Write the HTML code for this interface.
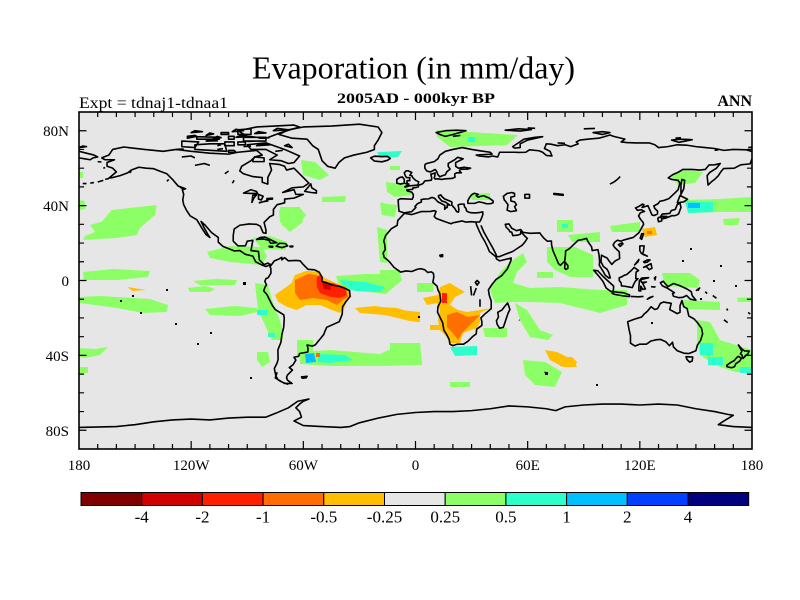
<!DOCTYPE html>
<html><head><meta charset="utf-8"><style>
html,body{margin:0;padding:0;background:#fff;}
svg{display:block;}
text{font-family:"Liberation Serif","Times New Roman",serif;fill:#000;}
</style></head><body>
<svg width="800" height="600" viewBox="0 0 800 600" xmlns="http://www.w3.org/2000/svg">
<defs><clipPath id="mc"><rect x="79" y="112" width="673" height="337"/></clipPath></defs>
<rect x="0" y="0" width="800" height="600" fill="#fff"/>
<rect x="79" y="112" width="673" height="337" fill="#e6e6e6"/>
<g clip-path="url(#mc)">
<g fill="#8cff66">
<polygon points="111.7,210 156.7,205 155,215 140,228 136.7,235 116.7,238 83.3,240 85,236 95,232 90,225 101.7,221.7"/>
<polygon points="79,200 85,201 85,209 79,210"/>
<polygon points="83,272 113,269 150,271 148,277 117,280 84,280"/>
<polygon points="79,297 100,296 150,299 168,305 167,312 143,313 117,308 80,303"/>
<polygon points="207,252 230,246 262,247 267,256 262,265 230,262 210,258"/>
<polygon points="193,281 215,279 237,280 235,285 200,285"/>
<polygon points="188,288 205,286 215,289 210,292 190,292"/>
<polygon points="205,309 235,306 257,308 257,312 240,316 210,315"/>
<polygon points="255,283 268,285 272,300 278,315 283,330 283,340 272,340 265,325 258,310"/>
<polygon points="257,352 268,352 270,362 262,367 257,360"/>
<polygon points="280,207 300,207 303,222 290,232 282,225"/>
<polygon points="253,238 270,236 287,242 285,250 262,249"/>
<polygon points="377,227 387,230 387,263 380,262"/>
<polygon points="380,203 397,205 395,217 382,215"/>
<polygon points="336,276 365,274 400,274 402,280 386,294 350,290 338,283"/>
<polygon points="300,352 330,350 380,354 400,345 420,343 422,365 380,366 330,366 300,364"/>
<polygon points="297,340 313,340 313,355 297,355"/>
<polygon points="301,160 315,162 329,175 320,180 303,175"/>
<polygon points="386,182 405,184 412,195 395,197 387,192"/>
<polygon points="322,197 346,196 345,202 322,202"/>
<polygon points="381,202 389,205 388,215 382,214"/>
<polygon points="279,210 300,208 306,215 298,225 290,232 280,222"/>
<polygon points="437,130 518,135 507,145 450,147 437,137"/>
<polygon points="670,175 685,170 703,172 695,183 678,185"/>
<polygon points="683,200 720,199 752,197 752,212 720,212 690,213"/>
<polygon points="723,219 740,218 738,225 724,225"/>
<polygon points="610,226 640,222 640,232 612,232"/>
<polygon points="557,220 573,220 573,232 557,232"/>
<polygon points="568,235 600,232 600,242 572,242"/>
<polygon points="547,247 575,247 593,255 593,277 570,277 555,270 547,262"/>
<polygon points="490,290 500,272 513,260 523,253 527,262 517,272 513,283 530,288 560,287 600,290 627,290 627,305 600,313 560,303 530,302 510,302 495,303"/>
<polygon points="515,303 527,310 540,330 553,335 548,340 530,337 520,320"/>
<polygon points="483,328 507,328 507,337 485,337"/>
<polygon points="523,360 545,362 562,372 555,387 535,385 525,375"/>
<polygon points="662,273 690,273 700,280 698,288 665,286"/>
<polygon points="683,300 720,302 720,310 685,309"/>
<polygon points="737,298 752,297 752,302 738,302"/>
<polygon points="697,320 710,322 720,340 752,350 752,373 735,372 715,365 700,355 697,340"/>
<polygon points="470,194 490,193 490,200 472,200"/>
<polygon points="79,348 95,349 108,347 100,355 85,358 79,357"/>
<polygon points="79,367 88,367 88,373 79,373"/>
<polygon points="417,283 433,283 433,292 417,292"/>
<polygon points="380,270 400,270 400,277 380,277"/>
<polygon points="537,272 553,272 553,278 537,278"/>
<polygon points="390,343 420,343 422,365 390,360"/>
<polygon points="450,382 470,382 470,387 450,387"/>
<polygon points="79,172 83,172 83,178 79,178"/>
<polygon points="390,166 400,166 400,170 390,170"/>
</g>
<g fill="#2cffcc">
<polygon points="340,280 365,282 385,287 380,292 355,291 343,286"/>
<polygon points="318,354 345,355 353,360 330,363 318,362"/>
<polygon points="450,347 477,346 477,355 455,356"/>
<polygon points="685,201 713,202 713,212 688,213"/>
<polygon points="700,343 713,343 713,355 700,355"/>
<polygon points="708,357 723,357 723,365 708,365"/>
<polygon points="740,367 752,367 752,373 740,373"/>
<polygon points="257,310 267,310 267,315 257,315"/>
<polygon points="268,333 275,333 275,337 268,337"/>
<polygon points="377,152 402,151 398,157 380,158"/>
<polygon points="468,137 475,137 475,142 468,142"/>
<polygon points="562,224 568,224 568,228 562,228"/>
</g>
<g fill="#00c0ff">
<polygon points="305,354 314,353 316,362 306,363"/>
<polygon points="688,203 700,203 700,208 688,208"/>
</g>
<g fill="#ffbf00">
<polygon points="275,295 291.7,283 295,275 306.7,270.7 316.7,271.7 325,278 333,281.7 346.7,286.7 351.7,296.7 346.7,300 345,306.7 340,313 331.7,310 320,305 306.7,305 296.7,310 286.7,306.7 278,301.7"/>
<polygon points="355,308 375,306 400,310 420,312 420,322 410,321 385,315 360,313"/>
<polygon points="423,298 438,295 440,287 450,283 458,288 465,292 455,297 450,305 458,310 467,312 480,310 490,308 480,313 480,322 477,328 463,333 460,343 450,343 447,337 440,330 438,320 440,310 437,303 427,305"/>
<polygon points="380,307 397,308 413,313 420,318 417,322 400,317 387,314 380,312"/>
<polygon points="430,325 442,325 442,330 430,330"/>
<polygon points="545,350 557,352 573,360 577,367 563,367 550,360"/>
<polygon points="642,229 655,227 657,235 645,237"/>
<polygon points="127,287 146,290 133,291"/>
<polygon points="560,357 572,357 577,362 575,367 560,366"/>
</g>
<g fill="#ff6e00">
<polygon points="295,280 308,274 316.7,275 320,281.7 335,286.7 346.7,290 348,296.7 343,300 336.7,305 326.7,300 313,298 300,300 295,293"/>
<polygon points="447,315 457,312 468,317 480,315 470,325 462,333 458,340 452,332 447,327"/>
<polygon points="316,353 320,353 320,357 316,357"/>
<polygon points="647,231 652,231 652,234 647,234"/>
</g>
<g fill="#ff2000">
<polygon points="316.7,276.7 320,275 323,281.7 333,283 345,288 346.7,295 340,298 330,296.7 320,293 316.7,286.7"/>
<polygon points="442,293 447,293 447,303 442,303"/>
</g>
<g fill="#d00000"><polygon points="322,282 330,284 331,290 324,289"/></g>

<g transform="translate(415.5,280.5) scale(1.8694,-1.8722)" fill="none" stroke="#000" stroke-width="1.6" stroke-linejoin="round">
<path vector-effect="non-scaling-stroke" d="M-168,65.5 L-164,67 -162,70 -156,71.3 -145,70 -135,69 -128,70 -120,69 -110,68 -100,67.5 -95,68.5 -90,69 -85,69.5 -82,67 -86,66 -88,64 -93,61 -94,58.5 -92,57 -87,55.5 -82,55 -82,52.5 -79,51.5 -79,55 -77,59 -78,62.5 -73,62 -70,61 -69,59 -65,60 -61,56 -57,52 -60,50 -66,49.5 -71,47 -65,48.5 -64,46 -60,46 -65,44 -70,43.5 -70,41.5 -74,40.5 -76,38 -76,35 -78,34 -81,31 -80,27 -80,25.2 -81.5,25.5 -83,29 -85,30 -89,30.2 -94,29.5 -97,27.5 -97.5,24 -97.5,21 -95,18.5 -91,18.5 -90,21 -87,21.5 -88,16 -84,15.5 -83.5,11 -81,8.5 -79,9.3 -77.5,8.5 -80,7.5 -82,8.2 -85.5,10 -87,13 -91,14 -94,16 -97,15.8 -103,18.2 -105.5,20.5 -105.5,23 -109,25.5 -112.5,29.5 -114.7,31.5 -113,28 -111,24.5 -110,23 -112,24.5 -114,27.5 -115.5,30 -117,32.5 -120.5,34.5 -122.5,37.5 -124,40.5 -124.5,43 -124,46 -124.7,48.4 -123,49 -127,50.5 -130,54 -133,57 -137,58.5 -140,59.7 -144,60 -148,60.5 -152,59 -154,57.5 -158,56 -162,55 -164,54.7 -160,58 -162,60 -165,61 -165,63 -161,64.5 -166,64.5 -168,65.5"/>
<path vector-effect="non-scaling-stroke" d="M-73,78 L-68,80.5 -60,82 -45,82.5 -30,83.5 -20,82 -18,79 -20,75 -22,72 -22,70 -26,68.5 -33,67 -38,65.5 -41,63 -43,60 -47,61 -50,64 -51,67 -52,70 -55,72 -58,75.5 -66,76 -73,78Z"/>
<path vector-effect="non-scaling-stroke" d="M-62,66.5 L-65,63 -68,62.5 -72,64 -78,64.5 -74,67 -80,70 -88,70 -90,72.5 -80,73.5 -70,70 -62,66.5Z M-80,76 L-90,77 -95,80 -85,82 -65,83 -62,82 -72,79 -80,76Z M-118,70 L-101,69 -102,73 -110,73 -118,72.5Z M-125,71.5 L-118,71 -116,74 -125,74.5Z M-80,74.5 L-92,74.5 -92,76.5 -80,76.5Z M-117,75.5 L-105,75.5 -105,76.5 -117,76.8Z M-100,75.5 L-97,75.5 -97,77 -100,77Z M-102,72 L-97,72 -97,74 -102,74Z M-95,72.5 L-91,72.5 -91,74 -95,74Z M-95,78 L-88,78 -88,81 -95,80.5Z M-87,63.5 L-81,63.5 -81,65.5 -86,66 -87,64.5Z M-122,76 L-117,77 -118,77.5 -122,77Z M-104,78 L-100,78 -100,79 -104,79Z M-100,68.5 L-96,68.5 -97,69.5 -100,69.5Z M-112,77.5 L-108,78.3 -110,78.8Z M-108,76 L-104,76.3 -106,77Z M-96,76.5 L-90,76.8 -93,77.5Z M-86,78.5 L-80,78.8 -84,79.5Z M-76,80 L-68,80.5 -74,81.2Z M-112,74.5 L-106,74.6 -108,75.2Z M-85,72 L-78,72.5 -82,73Z M-70,72 L-66,71 -68,72.8Z M-120,79 L-114,79.5 -118,80Z M-98,79.5 L-92,80 -96,80.8Z M-128,70 L-124,70.3 M-106,70 L-103,70.4 M-92,71.5 L-88,71.8 M-75,69 L-71,69.5 M-106,72 L-104,72.5 M-84,76 L-78,76.3 M-90,74.3 L-86,74.5"/>
<path vector-effect="non-scaling-stroke" d="M-92,46.7 L-88,48.5 -85,47.5 -84.5,46.5 -88,46.5Z M-87.5,41.7 L-86.5,44 -85,45.8 -87,45.5Z M-84,43.5 L-82.5,43 -81.5,45 -84,46Z M-83.5,41.5 L-79,42.8 -79,42.5 -83,41.8Z M-79.5,43.3 L-76.5,43.5 -76.5,44 -79.5,43.8Z M-118,61.5 L-113,62.5 -110,61.5 M-125,66 L-120,66.5 -118,65.5 M-102,57 L-100,58.5 M-98,52 L-97,53.5"/>
<path vector-effect="non-scaling-stroke" d="M-59.3,47.6 L-56,51.6 -55.5,49.5 -53,48 -53,46.7 -55.8,47Z M-85,21.9 L-83,23 -80.5,23.2 -77,21.5 -74.2,20.2 -77.5,19.9 -78.5,21.5 -81.5,22.2Z M-74.5,18.3 L-72.8,19.9 -69.5,19.7 -68.4,18.5 -71.5,17.6Z M-78.3,18.3 L-76.3,18.2 -76.5,17.8 -78.2,18Z M-67.2,18.3 L-65.6,18.4 -65.7,18 -67.1,18Z M-24,65.5 L-22,66.4 -18,66.2 -15,66.3 -13.5,65.2 -15,64.2 -18,63.4 -22,63.8Z"/>
<path vector-effect="non-scaling-stroke" d="M-178,51.8 L-176,51.8 M-174,52 L-172,52.3 M-170,52.6 L-167,53.5 M-166,54 L-164,54.5 M-153,57.5 L-152,58.3 M-126,50 L-124,48.5 M-133,53 L-132,54 M-170,63.5 L-168,63.3 M-167,60 L-166,60.3"/>
<path vector-effect="non-scaling-stroke" d="M-77,8.5 L-75.5,10.5 -73,11.5 -71.5,12.4 -71.5,11 -70,12.2 -68,10.5 -64,10.7 -61.7,10.5 -60,8.5 -57.5,6 -54,5.7 -51.5,4.4 -50,1.8 -50,-0.5 -48,-1 -44.5,-2.5 -41,-3 -38.5,-3.8 -35.3,-5.4 -35,-8.5 -37,-11 -39,-14 -39.2,-18 -40.8,-22 -43,-23 -47.5,-25 -48.6,-27.5 -49,-28.7 -50.8,-31 -52.5,-33 -53.5,-34.3 -55,-35 -58,-34.5 -57.5,-36.3 -57.6,-38.2 -62,-39 -62.5,-40.5 -65,-41 -64,-42.5 -65.5,-45 -67.5,-46.5 -65.8,-47.8 -68.5,-50.5 -69,-52 -68.4,-53.3 -66,-55 -70,-55 -73.5,-53 -74.7,-51 -75.5,-47 -74,-44 -73.5,-42 -73.6,-37 -72,-33 -71.5,-29 -70.5,-25 -70.2,-20 -70.5,-18.3 -75,-15.5 -76.5,-13.5 -79.5,-7.5 -81.2,-5.5 -80.5,-3.5 -79.7,-2.3 -80.6,-0.5 -80,1 -78.8,1.5 -77.3,4 -77.4,6.6 -77.9,7.3 -77,8.5 M-61,-51.5 L-58,-51.2 -58.5,-52 -60.5,-52.2Z M-74,-49 L-75,-52 -72,-54 M-71,-54.5 L-68,-55.5"/>
<path vector-effect="non-scaling-stroke" d="M5,62 L5,60 6,58.5 8,58 10.5,59.3 11.2,58.5 12,56.5 13,55.4 14.5,56 16,56.5 16.7,58 18.5,59.5 17.5,61 17.5,62.5 21,64.5 22.5,65.8 25.5,65 24.5,64.5 21.5,63 21.5,61 23,60 26,60.5 29.5,60 28,59.5 24,59.4 23.5,58.5 24.5,57.5 22,57.5 21,57 21,56 21.2,55.2 19.5,54.5 16,54.3 14,54 12,54.3 10.5,54.2 10,54.8 10.3,55.7 10.5,57.5 9.5,57.1 8.2,56.8 8.5,55.5 8.7,54.5 8.5,53.6 7,53.4 5,53.2 4,51.8 3,51.3 1.6,50.9 1.5,50 0,49.6 -1.3,49.6 -1.5,48.7 -4.7,48.4 -4.3,47.8 -2,47.2 -1.2,46 -1.2,44.6 -1.8,43.4 -8,43.7 -9.3,43 -9,38.7 -8.8,37 -6,36.1 -5,36.3 -2,36.8 -0.5,38.3 0.2,39 -0.3,39.5 1,41 3.2,42 3,43.2 4.5,43.5 7,43.6 8.8,44.4 10.2,43.9 12,42 14,41 15.7,40 15.6,38 16.5,39 17,39 17,40.5 18.5,40.2 16,41.9 14,42.5 12.3,44.6 12.3,45.3 13.6,45.7 14,45 15.5,43.6 18.5,42.4 19.5,41.8 19.4,40.3 21,38.5 22,36.8 23,36.5 23.2,38 22.8,40.4 24,40.8 26,40.8 26.2,39.4 27,38.5 27.3,37.2 28,36.7 29.5,36.2 32,36.1 34,36.3 36,36.6 36,35.2 35.5,33.8 35,32.5 34.3,31.3 32,31.2 30,31.4 27,31.2 25,31.8 20,30.8 19,30.3 15.5,31.5 11,33.2 10,34.2 11,36.9 10,37.3 8,36.9 3,36.8 -1,35.5 -2,35.2 -5.5,35.8 -6,35.8 -9.5,32 -9.8,29.5 -13,27.6 -16,24 -17,21 -16.5,19.5 -16.2,16.5 -17.3,14.7 -16.8,12.4 -15,11 -13.5,9.5 -11.5,7 -8,4.5 -5,5.1 -2,4.8 1,6 3,6.3 5,5.7 6.5,4.3 8.5,4.6 9.6,3.8 9.8,2 9.3,-1 11.5,-3 12,-5 13,-7 13.5,-11 12,-14 11.8,-17 14.5,-22.5 15.2,-26.5 16.5,-28.6 18,-31.5 18.4,-34 20,-34.8 22.5,-34 25.7,-34 28,-32.5 30.5,-30 32.5,-28.5 32.7,-26 35.5,-24 35.5,-22 35,-20 37,-18 40.5,-15 40.5,-11 39.5,-8 39,-5 41,-2 43,0.5 46,2.5 49,6 51,10.5 51.2,12 45,10.5 43.3,11.5 43,12.7 39.5,15.5 38.5,18 37,21 35.5,23.5 34,26.6 32.6,29.9 32.3,31.2"/>
<path vector-effect="non-scaling-stroke" d="M35,29.5 L36.5,26 39,21.5 41,18 42.8,14.5 43.5,12.7 45,12.8 48,14 52,15.5 55,17.5 57,18.8 58.5,20.5 59.8,22.5 58.5,23.7 56.3,26.2 56.2,24.8 54.5,24.2 52,24 51.5,25.8 50.5,26 50,27 48.5,28.5 48,30 50,30.2 51.5,27.9 54,26.6 56.3,27.2 57.5,25.7 61.5,25.2 66.5,25.4 67.5,24 68.8,22.5 70.5,21 72.7,21.1 72.8,19 73.5,16 75,12.5 76.5,9 77.5,8.1 78.3,8.9 79.8,10.3 80.2,13.5 80.3,15.8 82.3,17 84.9,19.5 87,21.5 89,21.8 91.5,22.5 92.3,20.7 94.2,18 94.5,16 97.6,16.5 98.2,13.5 98.5,10 98.3,8.2 100.3,5 101.5,2.8 103.5,1.3 104.2,1.4 103.3,4.5 102.4,6.1 100.5,7.5 99.2,10 99.5,13.5 101,12.7 102.5,12 103.5,10.5 105,8.6 106.7,10.4 109.2,11.7 109,15.3 106.5,17.7 105.7,19 106.6,20.5 108,21.5 110,21 111,21.5 113.5,22.2 116.5,23 119.5,25.5 120.8,27.8 122,30 121.8,31 120.5,32.5 119.3,34.5 120.3,36.2 122.5,36.9 120.8,37.8 118.7,37.5 117.7,38.8 119,39.3 121.5,40.8 122.2,40.5 121.2,39 122.5,39.4 124.3,40 125.2,38 126.5,35 127.7,34.7 129.4,35.5 129.5,37 128,38.5 127.5,39.8 129.7,41 130.7,42.3 133,42.8 135.5,43.7 138.5,46.5 140.5,48.5 141.4,52 140.5,53.5 137,54 135.2,54.8 137.5,56.5 140.5,57.8 143,59.3 148,59.3 152,59 155,59.3 157,61.7 160,61.8 163,62.5 161,60 157.5,57.8 156,56 156.5,51 158.5,52.9 160,54 162,56 163.3,58 164.8,59.8 170.5,60 174,61.8 179,62.3 180,65"/>
<path vector-effect="non-scaling-stroke" d="M180,68.9 L177,69.8 170,70 165,69.5 160,70.5 155,71 150,71.5 145,72.3 140,72.5 135,71.5 130,71 128,72.5 125,73.5 118,73.5 113,73.7 110,74 112,75.5 106,77 104,77.7 100,76.5 98,76 92,75.5 88,75 86,74 87,73 83,71.5 80,72.5 76,72 72.5,72.8 70,73 69,70.5 72,69 73,66.5 70,66.8 68,68.5 66,69.3 61,69.8 59,68.5 55,68.4 53.5,68.5 45,68.5 44,66 41,66.5 39,66 34,66.5 32.5,67 41,67.5 40,68.5 35,69.2 30,70 25,71 20,70 16,69 13,67 12,65 10,63.5 6,62.5 5,62 M-180,65.5 L-177,65 -174,64.5 -172.5,65.5 -170,66 -172,67 -176,68 -180,69"/>
<path vector-effect="non-scaling-stroke" d="M28,41.2 L29.5,41.2 31.5,41.2 34,42 36,41.6 38,41 40,41 41.5,41.5 41.5,42.5 39.5,44 37.5,44.8 36.6,45.3 35,45 33.5,44.5 32.5,45.3 33.6,46 31.5,46.6 30.3,46 29.6,45.3 28.7,44 28,42.6Z M47,45 L49,46.5 51.5,47 53,46.5 53,45 51,44.5 51,42.5 53,42 54,40.5 53,39.5 54,37.3 51,36.8 49,37.6 49.5,40.5 48,42.5 47.5,43Z M58.5,46 L61,46 61,44 58.5,44Z M74,46.5 L79,46 79,45.5 74,46Z M104,51.5 L106,52.5 108,54 109.5,55.5 M33,0 L34,-1 33,-2.5 32,-1Z M13,13.5 L14.5,13.8 14.5,12.8 13.3,12.8Z M29.5,-3 L30,-8 M34.5,-10 L34.5,-14 M32.5,-4 L31,-8"/>
<path vector-effect="non-scaling-stroke" d="M-5,50 L-3,50.6 1.3,51 1.7,52.7 0,53.5 -1.5,55 -2,56 -3,56.2 -2,57.7 -4,58.6 -5,58.6 -6,57.5 -5.5,56 -4.8,55 -3,54.9 -3.2,54 -3,53.3 -4.5,53.3 -4.5,52.2 -5.2,51.7 -3.5,51.5 -5.7,50Z M-6,52 L-6,54 -7,55.3 -8.5,55 -10,54 -10,52 -8,51.5Z M11,79 L16,80 22,80.3 27,80 20,78 16,77 13,78Z M52,71.5 L55,73.5 58,75.5 64,76.5 68,76.8 60,75 56,73 56,71 53,70.7Z M95,79 L100,79.5 104,79 100,78Z M137,75 L142,75.5 148,75.2 141,73.8Z M142,46 L143.5,49 144,53.5 142.5,54 142,51Z M140,41.5 L141.5,45.4 145.5,43.4 143.5,42Z M141.5,41.4 L142,39 140.8,35.7 139.8,35 138.5,34.6 137,34.6 135.2,33.8 132.5,34.3 131,34 132,35.5 136,35.8 136.8,37.3 139,38 140,40.5Z M130,31.4 L131.7,31.8 131.7,33.7 130,33.7 129.6,33Z M132.5,33 L134.5,33.5 134.5,34.2 133,34.2Z M120.2,22.6 L121,25 122,25 121,22Z M108.6,19.2 L110.5,20.1 111,19.6 109.5,18.2Z M48,80.3 L55,81 62,80.6 56,79.8Z M20,77 L24,77.5 M60,81.5 L64,81.3 M90,81 L96,81.2 M76,73.5 L80,73.3 M139,76 L142,76.3 M178,71 L180,71.2 M-180,71 L-176,71.5 -178,71.8Z M160,69.5 L162,69.8"/>
<path vector-effect="non-scaling-stroke" d="M120,18.5 L122.3,18.5 122,16 121.5,14 124,13 123,13.5 120.8,14.5 120,16Z M122,7 L126,9 126.5,6.5 125,5.8 123.5,7.5Z M122,10 L124,11 125.5,11 124,9.8 122.5,9.5Z M117.2,8.3 L119.5,11.2 119,10Z M79.8,6.5 L80,9.8 81.5,8 81.5,6.5 80.5,5.9Z M95.3,5.5 L97.5,5.2 100.3,2.2 103.8,-1 106,-3 105.8,-5.8 104.5,-5.9 102,-4 100.3,-0.5 98.5,1.8Z M105.2,-6.8 L106,-6 108.3,-6.3 111,-6.5 114.5,-7.7 114.3,-8.6 111,-8.2 106.5,-7.4Z M109,1.5 L110,1.8 111.5,2.7 113,3.2 115.5,5.4 117,7 119.3,5.3 118,4.5 117.8,1 119,1 117.5,-0.5 116.5,-2.5 116,-3.8 114.5,-3.5 111.5,-3 110.2,-2.9 110,-1.3 109,0Z M119.5,-5.5 L120.5,-5.6 120.5,-3 121.5,-4.7 123,-4.5 121.5,-1.5 123.5,-0.8 121,-1 120.3,0.4 124.7,1.5 121,1.3 119.8,0 119.5,-3.5Z M131,-1.2 L132.5,-0.4 135,-3.3 138,-1.6 141,-2.6 145,-4.4 147.5,-6 148,-8 150,-10.5 147,-10 145,-8 143,-9 141,-9.2 138,-8.4 137.5,-7 138.5,-6.5 134.5,-4 132,-2.8Z M115,-8.5 L119,-8.7 122,-8.5 M124,-10 L127,-8.5 125,-9.2Z M126,-3.3 L128,-3.5 128,-3 M127.5,1 L128.5,2 128,0 M150,-5.5 L152,-4 151,-5.5 M155,-6 L156,-7 M159,-8 L161,-9.5 M166.5,-15 L167,-16 M165,-21 L167,-22.5 M178,-17 L179,-18"/>
<path vector-effect="non-scaling-stroke" d="M113.5,-22 L114.2,-26 115,-29.5 115,-33.5 117.5,-35 120,-34 123.5,-34 126,-32.3 129,-31.6 131.2,-31.5 134,-32.8 135.8,-34.8 137.5,-33 138,-35.5 140,-37.5 143.5,-38.8 146.3,-39 150,-37.5 150.8,-34.5 152.5,-32 153.6,-28.5 153,-25.5 150.8,-22.5 149,-20.5 146.2,-19 145.3,-15 143.5,-14 142.5,-10.7 141.5,-13.5 141.5,-17 140,-17.7 136,-15.5 136.8,-12.2 132.7,-11.5 131,-12.2 129.5,-15 128,-15.5 126,-14 124,-16.5 122.2,-18 121,-19.5 117,-20.7 114,-21.8Z M144.7,-40.7 L148.3,-40.9 148,-43 146.7,-43.6 145.2,-42.2Z M172.7,-34.4 L174.5,-36.5 176,-37.6 178.5,-37.7 177.8,-39.2 176.8,-40 175.2,-41.6 174.6,-39.8 173.8,-39.2 174.6,-37.8Z M172.7,-40.5 L174.3,-41.5 173.5,-43 171.3,-44.5 170.7,-46 169,-46.6 166.5,-46 166.5,-45.3 168.3,-44 170.5,-42.8 172,-41Z M49.3,-12 L50.5,-15.5 49.5,-17.5 48,-22 47,-25 45,-25.5 43.7,-23.5 43.3,-21.5 44.4,-19.5 44,-17 46.3,-15.7 48,-13.5Z M69,-49 L70.5,-49.5 M55.5,-21 L55.7,-21.3"/>
<path vector-effect="non-scaling-stroke" d="M-180,-78.5 L-160,-78 -150,-77 -140,-75.5 -130,-74.5 -120,-74 -110,-74.5 -100,-73.5 -90,-73 -80,-73 -75,-71 -68,-68 -63,-64.5 -57,-63.3 -60,-64.5 -62,-66 -64,-68 -62,-70 -61,-73 -65,-75 -60,-77.5 -50,-78 -40,-78.5 -35,-78 -30,-76 -20,-73.5 -10,-71.5 0,-70.5 10,-70 20,-70 30,-69.5 40,-68.5 50,-67 60,-67.5 70,-68.5 75,-69.5 80,-67.5 90,-66.5 100,-66 110,-66 120,-66.5 130,-66 140,-66.5 150,-68.5 160,-70 167,-71.5 170,-72 165,-75 162,-77 170,-78 180,-78.5"/>
</g>
<g fill="#000">
<rect x="166" y="289" width="2" height="2"/><rect x="132" y="295" width="2" height="2"/><rect x="140" y="312" width="2" height="2"/><rect x="175" y="323" width="2" height="2"/><rect x="120" y="300" width="2" height="2"/><rect x="210" y="332" width="2" height="2"/><rect x="243" y="282" width="3" height="3"/><rect x="545" y="372" width="3" height="3"/><rect x="596" y="384" width="2" height="2"/><rect x="651" y="322" width="2" height="2"/><rect x="682" y="260" width="2" height="2"/><rect x="700" y="298" width="2" height="2"/><rect x="713" y="280" width="2" height="2"/><rect x="418" y="316" width="2" height="2"/><rect x="197" y="343" width="2" height="2"/><rect x="250" y="377" width="2" height="2"/><rect x="690" y="248" width="2" height="2"/><rect x="720" y="265" width="2" height="2"/><rect x="735" y="285" width="2" height="2"/>
</g>
</g>
<rect x="79" y="112" width="673" height="337" fill="none" stroke="#000" stroke-width="1.6"/>
<g transform="translate(415.5,280.5) scale(1.8694,-1.8722)" fill="none" stroke="#000" stroke-width="1.2">
<path vector-effect="non-scaling-stroke" d="M-170-90v2.7M-160-90v2.7M-150-90v2.7M-140-90v2.7M-130-90v2.7M-110-90v2.7M-100-90v2.7M-90-90v2.7M-80-90v2.7M-70-90v2.7M-50-90v2.7M-40-90v2.7M-30-90v2.7M-20-90v2.7M-10-90v2.7M10-90v2.7M20-90v2.7M30-90v2.7M40-90v2.7M50-90v2.7M70-90v2.7M80-90v2.7M90-90v2.7M100-90v2.7M110-90v2.7M130-90v2.7M140-90v2.7M150-90v2.7M160-90v2.7M170-90v2.7M-120-90v4.3M-60-90v4.3M0-90v4.3M60-90v4.3M120-90v4.3"/>
<path vector-effect="non-scaling-stroke" d="M-170 90v-2.7M-160 90v-2.7M-150 90v-2.7M-140 90v-2.7M-130 90v-2.7M-110 90v-2.7M-100 90v-2.7M-90 90v-2.7M-80 90v-2.7M-70 90v-2.7M-50 90v-2.7M-40 90v-2.7M-30 90v-2.7M-20 90v-2.7M-10 90v-2.7M10 90v-2.7M20 90v-2.7M30 90v-2.7M40 90v-2.7M50 90v-2.7M70 90v-2.7M80 90v-2.7M90 90v-2.7M100 90v-2.7M110 90v-2.7M130 90v-2.7M140 90v-2.7M150 90v-2.7M160 90v-2.7M170 90v-2.7M-120 90v-4.3M-60 90v-4.3M0 90v-4.3M60 90v-4.3M120 90v-4.3"/>
<path vector-effect="non-scaling-stroke" d="M-180 70h2.7M-180 60h2.7M-180 50h2.7M-180 30h2.7M-180 20h2.7M-180 10h2.7M-180-10h2.7M-180-20h2.7M-180-30h2.7M-180-50h2.7M-180-60h2.7M-180-70h2.7M-180 80h4M-180 40h4M-180 0h4M-180-40h4M-180-80h4"/>
<path vector-effect="non-scaling-stroke" d="M180 70h-2.7M180 60h-2.7M180 50h-2.7M180 30h-2.7M180 20h-2.7M180 10h-2.7M180-10h-2.7M180-20h-2.7M180-30h-2.7M180-50h-2.7M180-60h-2.7M180-70h-2.7M180 80h-4M180 40h-4M180 0h-4M180-40h-4M180-80h-4"/>
</g>
<text x="413.5" y="78.5" font-size="32" text-anchor="middle" textLength="323" lengthAdjust="spacingAndGlyphs">Evaporation (in mm/day)</text>
<text x="416" y="103" font-size="15" font-weight="bold" text-anchor="middle" textLength="158" lengthAdjust="spacingAndGlyphs">2005AD - 000kyr BP</text>
<text x="79" y="108" font-size="16" textLength="149" lengthAdjust="spacingAndGlyphs">Expt = tdnaj1-tdnaa1</text>
<text x="752" y="106" font-size="16" font-weight="bold" text-anchor="end">ANN</text>
<g font-size="15" text-anchor="end">
<text x="69" y="136">80N</text>
<text x="69" y="211">40N</text>
<text x="69" y="286">0</text>
<text x="69" y="361">40S</text>
<text x="69" y="436">80S</text>
</g>
<g font-size="15" text-anchor="middle">
<text x="79" y="470">180</text>
<text x="191.2" y="470">120W</text>
<text x="303.3" y="470">60W</text>
<text x="415.5" y="470">0</text>
<text x="527.7" y="470">60E</text>
<text x="639.8" y="470">120E</text>
<text x="752" y="470">180</text>
</g>
<g stroke="#000" stroke-width="1">
<rect x="81" y="492.5" width="60.7" height="13" fill="#800000"/>
<rect x="141.7" y="492.5" width="60.7" height="13" fill="#d00000"/>
<rect x="202.4" y="492.5" width="60.7" height="13" fill="#ff2000"/>
<rect x="263.1" y="492.5" width="60.7" height="13" fill="#ff6e00"/>
<rect x="323.8" y="492.5" width="60.7" height="13" fill="#ffbf00"/>
<rect x="384.5" y="492.5" width="60.7" height="13" fill="#e6e6e6"/>
<rect x="445.2" y="492.5" width="60.7" height="13" fill="#8cff66"/>
<rect x="505.9" y="492.5" width="60.7" height="13" fill="#2cffcc"/>
<rect x="566.6" y="492.5" width="60.7" height="13" fill="#00c0ff"/>
<rect x="627.3" y="492.5" width="60.7" height="13" fill="#0040ff"/>
<rect x="688" y="492.5" width="60.7" height="13" fill="#000080"/>
</g>
<g font-size="17" text-anchor="middle">
<text x="141.7" y="522.5">-4</text>
<text x="202.4" y="522.5">-2</text>
<text x="263.1" y="522.5">-1</text>
<text x="323.8" y="522.5">-0.5</text>
<text x="384.5" y="522.5">-0.25</text>
<text x="445.2" y="522.5">0.25</text>
<text x="505.9" y="522.5">0.5</text>
<text x="566.6" y="522.5">1</text>
<text x="627.3" y="522.5">2</text>
<text x="688" y="522.5">4</text>
</g>
</svg>
</body></html>
